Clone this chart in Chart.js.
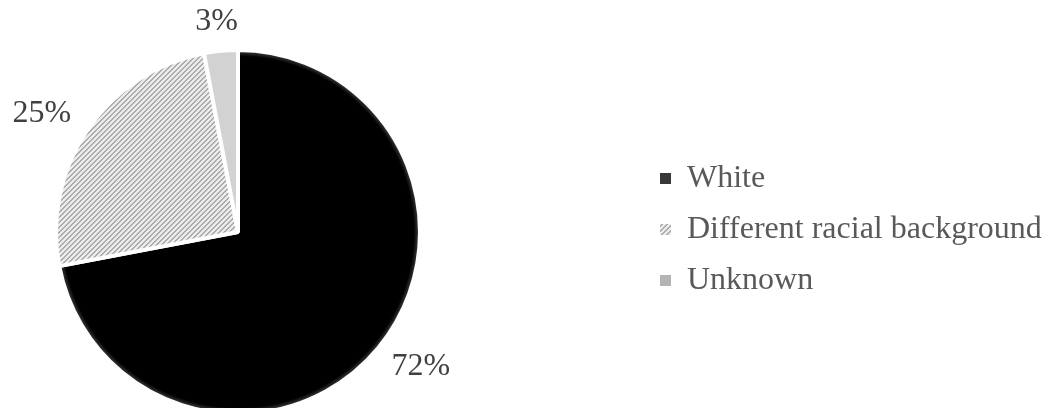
<!DOCTYPE html>
<html>
<head>
<meta charset="utf-8">
<script src="https://cdn.jsdelivr.net/npm/chart.js@4/dist/chart.umd.min.js"></script>
<style>
  html, body { margin: 0; padding: 0; background: #fff; }
  #wrap { position: relative; width: 1049px; height: 408px; overflow: hidden; }
  #chart { position: absolute; left: -165px; top: 0; }
</style>
</head>
<body>
<div id="wrap"><canvas id="chart" width="1266" height="420"></canvas></div>
<script>
const categories = ['White', 'Different racial background', 'Unknown'];
const shares = [72, 25, 3];

const SERIF = "'Liberation Serif', 'Times New Roman', serif";
const LEGEND_SIZE = 32;
const LABEL_SIZE = 32;
const RADIUS = 182;

// diagonal hatch used by the middle slice
function makeHatch() {
  const tile = document.createElement('canvas');
  tile.width = 5; tile.height = 5;
  const t = tile.getContext('2d');
  for (let x = 0; x < 5; x++) {
    for (let y = 0; y < 5; y++) {
      t.fillStyle = (x + y) % 5 < 2 ? '#ababab' : '#ebebeb';
      t.fillRect(x, y, 1, 1);
    }
  }
  return t.createPattern(tile, 'repeat');
}
const hatch = makeHatch();

function blackFill(c) {
  const area = c.chart.chartArea;
  if (!area) return '#000';
  const cx = (area.left + area.right) / 2;
  const cy = (area.top + area.bottom) / 2;
  const g = c.chart.ctx.createRadialGradient(cx, cy, 0, cx, cy, RADIUS);
  g.addColorStop(0, '#000');
  g.addColorStop(0.965, '#000');
  g.addColorStop(1, '#4a4a4a');
  return g;
}

const sliceFills = [blackFill, () => hatch, () => '#d2d2d2'];
const swatches = ['#383838', hatch, '#b4b4b4'];

// legend sits so its left edge lands at x=806 on the canvas
const canvas = document.getElementById('chart');
const mctx = canvas.getContext('2d');
mctx.font = LEGEND_SIZE + 'px ' + SERIF;
const textW = Math.max(...categories.map((c) => mctx.measureText(c).width));
const legendW = 19 + 11 + LEGEND_SIZE / 2 + textW + 10;
const padRight = canvas.width - 806 - legendW;

const outsideLabels = {
  id: 'outsideLabels',
  afterDatasetsDraw(chart) {
    const ctx = chart.ctx;
    const meta = chart.getDatasetMeta(0);
    ctx.save();
    ctx.font = LABEL_SIZE + 'px ' + SERIF;
    ctx.fillStyle = '#404040';
    ctx.textAlign = 'center';
    ctx.textBaseline = 'middle';
    meta.data.forEach((arc, i) => {
      const p = arc.getProps(['x', 'y', 'startAngle', 'endAngle', 'outerRadius'], true);
      const mid = (p.startAngle + p.endAngle) / 2;
      const dx = Math.cos(mid), dy = Math.sin(mid);
      const text = shares[i] + '%';
      const w = ctx.measureText(text).width;
      const d = p.outerRadius + 20;
      ctx.fillText(text, p.x + dx * (d + w * 0.6), p.y + dy * (d + 9));
    });
    ctx.restore();
  }
};

new Chart(canvas, {
  type: 'pie',
  data: {
    labels: categories,
    datasets: [{
      data: shares,
      backgroundColor: (c) => sliceFills[c.dataIndex](c),
      borderColor: '#ffffff',
      borderWidth: 4
    }]
  },
  options: {
    responsive: false,
    animation: false,
    events: [],
    radius: RADIUS,
    layout: { padding: { left: 0, top: 50, right: padRight, bottom: 6 } },
    plugins: {
      tooltip: { enabled: false },
      legend: {
        position: 'right',
        align: 'start',
        title: { display: true, text: '', font: { size: 10 }, padding: { top: 81.5, bottom: 0 } },
        labels: {
          color: '#595959',
          font: { family: SERIF, size: LEGEND_SIZE },
          boxWidth: 11,
          boxHeight: 11,
          padding: 19,
          generateLabels(chart) {
            const items = Chart.overrides.pie.plugins.legend.labels.generateLabels(chart);
            items.forEach((it, i) => {
              it.fillStyle = swatches[i];
              it.lineWidth = 0;
              it.strokeStyle = 'rgba(0,0,0,0)';
            });
            return items;
          }
        }
      }
    }
  },
  plugins: [outsideLabels]
});
</script>
</body>
</html>
